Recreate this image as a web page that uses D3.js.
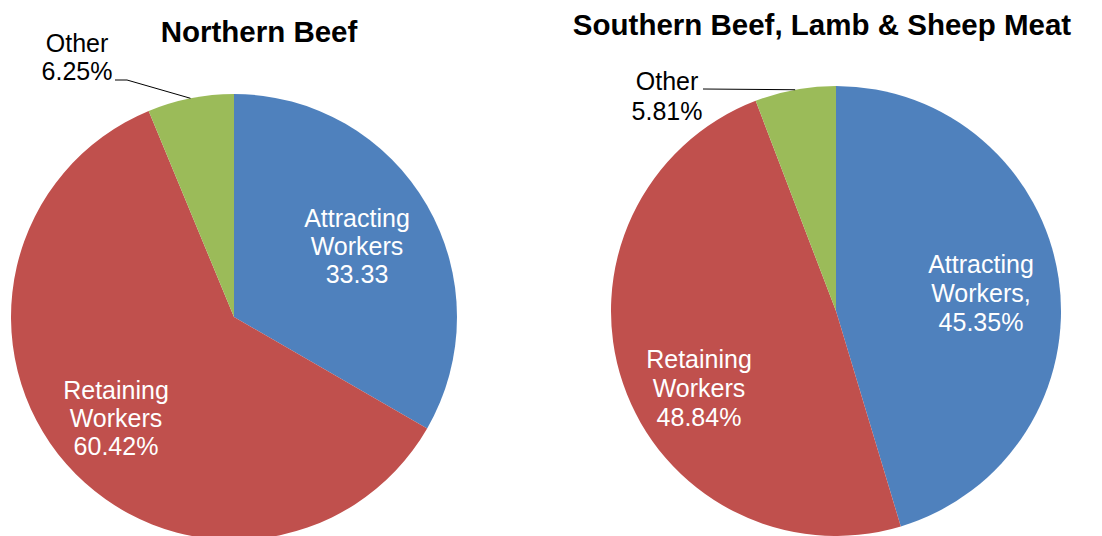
<!DOCTYPE html>
<html>
<head>
<meta charset="utf-8">
<script src="https://cdn.jsdelivr.net/npm/d3@7"></script>
<style>
  body { margin: 0; background: #fff; }
  svg text { font-family: "Liberation Sans", Arial, sans-serif; }
</style>
</head>
<body>
<svg id="chart" width="1102" height="536"></svg>
<script>
// data
var categories = ["Attracting Workers", "Retaining Workers", "Other"];
var northernValues = [33.33, 60.42, 6.25];
var southernValues = [45.35, 48.84, 5.81];
var northernLabels = [["Attracting", "Workers", "33.33"], ["Retaining", "Workers", "60.42%"], ["Other", "6.25%"]];
var southernLabels = [["Attracting", "Workers,", "45.35%"], ["Retaining", "Workers", "48.84%"], ["Other", "5.81%"]];
var titles = ["Northern Beef", "Southern Beef, Lamb & Sheep Meat"];

var colors = ["#4f81bd", "#c0504d", "#9bbb59"];

// layout for each pie (label spots are offsets from the pie centre)
var charts = [
    {
        title: titles[0], values: northernValues, labels: northernLabels,
        cx: 234, cy: 317, r: 223, titleX: 259, titleY: 42,
        spots: [{dx: 123, dy: -90, lh: 28}, {dx: -118, dy: 82, lh: 28}, {dx: -157, dy: -265, lh: 28, dark: true}],
        leader: [[115, 80], [127, 80]]
    },
    {
        title: titles[1], values: southernValues, labels: southernLabels,
        cx: 836, cy: 311, r: 225, titleX: 822, titleY: 35,
        spots: [{dx: 145, dy: -38, lh: 29}, {dx: -137, dy: 57, lh: 29}, {dx: -169, dy: -221, lh: 30, dark: true}],
        leader: [[703, 89]]
    }
];

var svg = d3.select("#chart");

var pie = d3.pie().sort(null).value(function(d){ return d; });

charts.forEach(function(c){
    var g = svg.append("g").attr("transform", "translate(" + c.cx + "," + c.cy + ")");
    var arc = d3.arc().innerRadius(0).outerRadius(c.r);
    var slices = pie(c.values);

    g.selectAll("path")
      .data(slices)
      .enter()
      .append("path")
      .attr("d", arc)
      .attr("fill", function(d, i){ return colors[i]; })
      .attr("data-category", function(d, i){ return categories[i]; });

    // leader line to the small "Other" slice
    var other = slices[2];
    var mid = (other.startAngle + other.endAngle) / 2;
    var pts = c.leader.map(function(p){ return [p[0] - c.cx, p[1] - c.cy]; });
    pts.push([c.r * Math.sin(mid), -c.r * Math.cos(mid)]);
    g.append("path")
      .attr("d", d3.line()(pts))
      .attr("fill", "none")
      .attr("stroke", "#000")
      .attr("stroke-width", 1);

    // slice labels
    c.labels.forEach(function(lines, i){
        var s = c.spots[i];
        var t = g.append("text")
          .attr("text-anchor", "middle")
          .attr("font-size", "25px")
          .attr("fill", s.dark ? "#000" : "#fff");
        lines.forEach(function(line, j){
            t.append("tspan")
              .attr("x", s.dx)
              .attr("y", s.dy + j * s.lh)
              .text(line);
        });
    });

    svg.append("text")
      .attr("x", c.titleX)
      .attr("y", c.titleY)
      .attr("text-anchor", "middle")
      .attr("font-size", "29.5px")
      .attr("font-weight", "bold")
      .attr("fill", "#000")
      .text(c.title);
});
</script>
</body>
</html>
